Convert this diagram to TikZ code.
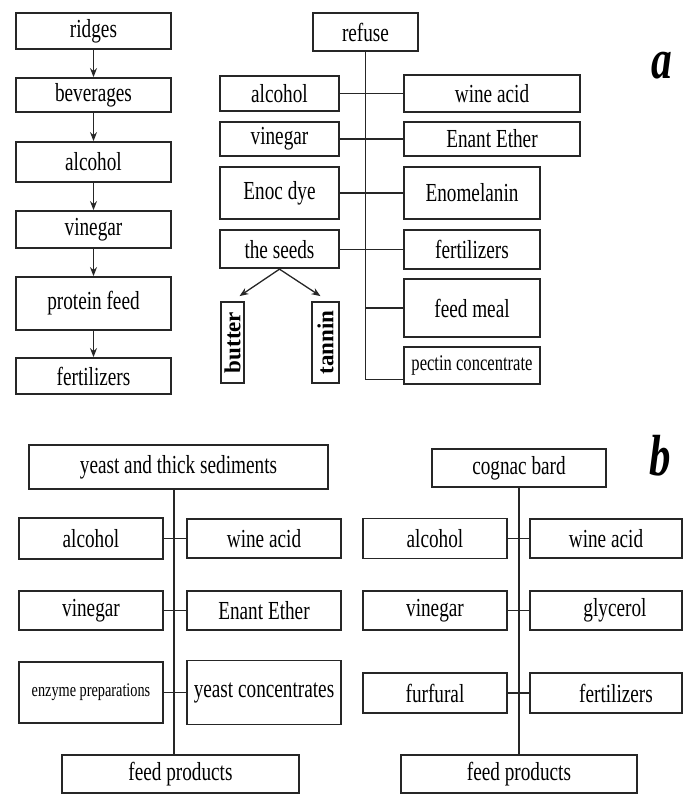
\documentclass[tikz,border=0pt]{standalone}
\usepackage{fontspec}
\setmainfont[FakeStretch=0.74]{Liberation Serif}
\newfontfamily\plainserif{Liberation Serif}
\usepackage{tikz}
\usetikzlibrary{arrows.meta}

\begin{document}
\begin{tikzpicture}[x=1pt,y=-1pt,
  box/.style={draw=black!85,line width=1.8pt,inner sep=0pt,font=\fontsize{26}{28}\selectfont},
  wh/.style 2 args={minimum width=#1pt,minimum height=#2pt},
  link/.style={draw=black!85,line width=1.3pt},
  >={Stealth[length=9pt,width=7pt]}]
\useasboundingbox (0,0) rectangle (689,796);
% a
\node[box,wh={155}{36}] (ridges) at (93.5,31) {ridges};
\node[box,wh={155}{34}] (beverages) at (93.5,95) {beverages};
\node[box,wh={155}{40}] (alcA) at (93.5,162) {alcohol};
\node[box,wh={155}{37}] (vinA) at (93.5,229.5) {vinegar};
\node[box,wh={155}{53}] (protein) at (93.5,303.5) {protein feed};
\node[box,wh={155}{36}] (fertA) at (93.5,376) {fertilizers};
\draw[link,->] (ridges) -- (beverages);
\draw[link,->] (beverages) -- (alcA);
\draw[link,->] (alcA) -- (vinA);
\draw[link,->] (vinA) -- (protein);
\draw[link,->] (protein) -- (fertA);

\node[box,wh={105}{38}] (refuse) at (365.5,32) {refuse};
\node[box,wh={119}{35}] (alcR) at (279.5,93.5) {alcohol};
\node[box,wh={119}{34}] (vinR) at (279.5,139) {vinegar};
\node[box,wh={119}{52}] (enoc) at (279.5,193) {Enoc dye};
\node[box,wh={119}{38}] (seeds) at (279.5,249.25) {the seeds};
\node[box,wh={176}{37}] (wineR) at (492,93.5) {wine acid};
\node[box,wh={176}{34}] (enantR) at (492,139) {Enant Ether};
\node[box,wh={136}{52}] (enomel) at (472,193) {Enomelanin};
\node[box,wh={136}{39}] (fertR) at (472,249.25) {fertilizers};
\node[box,wh={136}{58}] (feedmeal) at (472,308) {feed meal};
\node[box,wh={136}{37},font=\fontsize{22.4}{24}\selectfont] (pectin) at (472,365.5) {pectin concentrate};
\node[box,wh={81}{23},rotate=90,font=\plainserif\bfseries\fontsize{23}{25}\selectfont] (butter) at (232.5,342.5) {butter};
\node[box,wh={81}{27},rotate=90,font=\plainserif\bfseries\fontsize{23}{25}\selectfont] (tannin) at (325.5,342.5) {tannin};
\draw[link] (refuse.south) |- ([yshift=-14pt]pectin.west);
\draw[link] (refuse.south |- feedmeal.west) -- (feedmeal.west);
\draw[link] (alcR) -- (wineR);
\draw[link] (vinR) -- (enantR);
\draw[link] (enoc) -- (enomel);
\draw[link] (seeds) -- (fertR);
\draw[link,->] (seeds.south) -- ([xshift=7pt,yshift=5pt]butter.east);
\draw[link,->] (seeds.south) -- ([xshift=-5pt,yshift=5pt]tannin.east);
\node[font=\bfseries\itshape\fontsize{56}{56}\selectfont] (labA) at (662,66) {a};

% b
\node[box,wh={299}{44}] (yeast) at (178.5,467) {yeast and thick sediments};
\node[box,wh={144}{41}] (alcY) at (91,538.5) {alcohol};
\node[box,wh={144}{39}] (vinY) at (91,610.5) {vinegar};
\node[box,wh={144}{61},font=\fontsize{19.3}{21}\selectfont] (enzyme) at (91,692.5) {enzyme preparations};
\node[box,wh={154}{39}] (wineY) at (264,538.5) {wine acid};
\node[box,wh={154}{39}] (enantY) at (264,610.5) {Enant Ether};
\node[box,wh={154}{64}] (yconc) at (264,692.5) {yeast concentrates};
\node[box,wh={237}{38}] (feedY) at (180.5,774) {feed products};
\coordinate (trunkY) at (174,489);
\draw[link] (trunkY) -- (trunkY |- feedY.north);
\draw[link] (alcY) -- (wineY);
\draw[link] (vinY) -- (enantY);
\draw[link] (enzyme) -- (yconc);

\node[box,wh={174}{38}] (cognac) at (519,468) {cognac bard};
\node[box,wh={144}{40}] (alcC) at (435,538.5) {alcohol};
\node[box,wh={144}{39}] (vinC) at (435,610.5) {vinegar};
\node[box,wh={144}{40}] (furf) at (435,693) {furfural};
\node[box,wh={152}{39}] (wineC) at (606,538.5) {wine acid};
\node[box,wh={152}{39}] (glyc) at (606,610.5) {\hspace*{18pt}glycerol};
\node[box,wh={152}{40}] (fertC) at (606,693) {\hspace*{20pt}fertilizers};
\node[box,wh={236}{38}] (feedC) at (519,774) {feed products};
\draw[link] (cognac) -- (feedC);
\draw[link] (alcC) -- (wineC);
\draw[link] (vinC) -- (glyc);
\draw[link] (furf) -- (fertC);
\node[font=\bfseries\itshape\fontsize{58}{58}\selectfont] (labB) at (660,456) {b};
\end{tikzpicture}
\end{document}
